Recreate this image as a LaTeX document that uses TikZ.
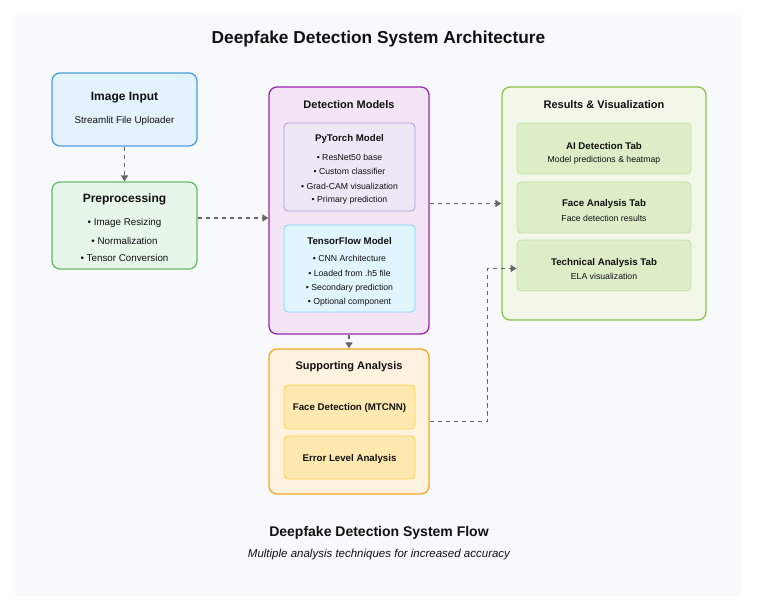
\documentclass[tikz,border=0pt]{standalone}
\usepackage{fontspec}
\setmainfont{Liberation Sans}
\usetikzlibrary{arrows.meta}
\definecolor{bgc}{HTML}{F8F9FA}
\definecolor{blueB}{HTML}{4A9FDB}\definecolor{blueF}{HTML}{E3F2FD}
\definecolor{greenB}{HTML}{66BB6A}\definecolor{greenF}{HTML}{E8F5E9}
\definecolor{purB}{HTML}{9C27B0}\definecolor{purF}{HTML}{F3E5F5}
\definecolor{ptB}{HTML}{B39DDB}\definecolor{ptF}{HTML}{EDE7F6}
\definecolor{tfB}{HTML}{81D4FA}\definecolor{tfF}{HTML}{E1F5FE}
\definecolor{resB}{HTML}{8BC34A}\definecolor{resF}{HTML}{F1F8E9}
\definecolor{tabB}{HTML}{C5E1A5}\definecolor{tabF}{HTML}{DCEDC8}
\definecolor{supB}{HTML}{F5A623}\definecolor{supF}{HTML}{FFF3E0}
\definecolor{sinB}{HTML}{FFD54F}\definecolor{sinF}{HTML}{FFE9B0}
\definecolor{arrc}{HTML}{666666}
\definecolor{txt}{HTML}{111111}
\tikzset{
  box/.style={draw, rounded corners=8pt, line width=1.3pt, inner sep=0pt},
  inbox/.style={draw, rounded corners=4pt, line width=0.8pt, inner sep=0pt},
  ttl/.style={font=\bfseries\fontsize{12}{14}\selectfont, text=txt, inner sep=0pt},
  mttl/.style={font=\bfseries\fontsize{11}{13}\selectfont, text=txt, inner sep=0pt},
  sttl/.style={font=\bfseries\fontsize{9.7}{12}\selectfont, text=txt, inner sep=0pt},
  sub/.style={font=\fontsize{9.8}{12}\selectfont, text=txt, inner sep=0pt},
  small/.style={font=\fontsize{8.7}{10}\selectfont, text=txt, inner sep=0pt},
  arrow/.style={draw=arrc, line width=1.5pt, dash pattern=on 4.5pt off 3.5pt, -{Triangle[width=7pt,length=6pt,fill=arrc]}},
}
\begin{document}
\begin{tikzpicture}[x=1pt,y=-1pt]
\useasboundingbox (0,0) rectangle (757,601);
\fill[bgc] (15,15) rectangle (742,596);
\node[font=\bfseries\fontsize{17.3}{20}\selectfont, text=txt, inner sep=0pt] (title) at (378.5,39) {Deepfake Detection System Architecture};

% Image Input
\node[box, draw=blueB, fill=blueF, minimum width=145pt, minimum height=73pt] (img) at (124.5,109.5) {};
\node[ttl] (imgt) at (124.5,98) {Image Input};
\node[sub] (imgs) at (124.5,121) {Streamlit File Uploader};

% Preprocessing
\node[box, draw=greenB, fill=greenF, minimum width=145pt, minimum height=87pt] (prep) at (124.5,225.5) {};
\node[ttl] (prept) at (124.5,199.5) {Preprocessing};
\node[sub] (prep1) at (124.5,223) {• Image Resizing};
\node[sub] (prep2) at (124.5,240.5) {• Normalization};
\node[sub] (prep3) at (124.5,258) {• Tensor Conversion};

% Detection Models
\node[box, draw=purB, fill=purF, minimum width=160pt, minimum height=247pt] (det) at (349,210.5) {};
\node[mttl] (dett) at (349,104.5) {Detection Models};
\node[inbox, draw=ptB, fill=ptF, minimum width=131pt, minimum height=88pt] (pt) at (349.5,167) {};
\node[sttl] (ptt) at (349.5,139) {PyTorch Model};
\node[small] (pt1) at (349.5,157) {• ResNet50 base};
\node[small] (pt2) at (349.5,171.5) {• Custom classifier};
\node[small] (pt3) at (349.5,186) {• Grad-CAM visualization};
\node[small] (pt4) at (349.5,200.5) {• Primary prediction};
\node[inbox, draw=tfB, fill=tfF, minimum width=131pt, minimum height=87pt] (tf) at (349.5,268.5) {};
\node[sttl] (tft) at (349.5,241) {TensorFlow Model};
\node[small] (tf1) at (349.5,258.5) {• CNN Architecture};
\node[small] (tf2) at (349.5,273) {• Loaded from .h5 file};
\node[small] (tf3) at (349.5,288) {• Secondary prediction};
\node[small] (tf4) at (349.5,302.5) {• Optional component};

% Results
\node[box, draw=resB, fill=resF, minimum width=204pt, minimum height=233pt] (res) at (604,203.5) {};
\node[mttl] (rest) at (604,104.5) {Results \& Visualization};
\node[inbox, draw=tabB, fill=tabF, minimum width=174pt, minimum height=51pt] (ai) at (604,148.5) {};
\node[sttl] (ait) at (604,146) {AI Detection Tab};
\node[small] (ais) at (604,160.5) {Model predictions \& heatmap};
\node[inbox, draw=tabB, fill=tabF, minimum width=174pt, minimum height=51pt] (fa) at (604,207.5) {};
\node[sttl] (fat) at (604,204) {Face Analysis Tab};
\node[small] (fas) at (604,218.5) {Face detection results};
\node[inbox, draw=tabB, fill=tabF, minimum width=174pt, minimum height=51pt] (ta) at (604,265.5) {};
\node[sttl] (tat) at (604,262.5) {Technical Analysis Tab};
\node[small] (tas) at (604,276.5) {ELA visualization};

% Supporting
\node[box, draw=supB, fill=supF, minimum width=160pt, minimum height=145pt] (sup) at (349,421.5) {};
\node[mttl] (supt) at (349,367) {Supporting Analysis};
\node[inbox, draw=sinB, fill=sinF, minimum width=131pt, minimum height=44pt] (fd) at (349.5,407) {};
\node[sttl] (fdt) at (349.5,407.5) {Face Detection (MTCNN)};
\node[inbox, draw=sinB, fill=sinF, minimum width=131pt, minimum height=43pt] (ela) at (349.5,457.5) {};
\node[sttl] (elat) at (349.5,458.5) {Error Level Analysis};

% Footer
\node[font=\bfseries\fontsize{14}{16}\selectfont, text=txt, inner sep=0pt] (flow) at (379,533) {Deepfake Detection System Flow};
\node[font=\itshape\fontsize{11.5}{13}\selectfont, text=txt, inner sep=0pt] (flows) at (379,555) {Multiple analysis techniques for increased accuracy};

% Arrows
\draw[arrow] (img.south) -- (prep.north);
\draw[arrow] ([yshift=7.5pt]prep.east) -- ([yshift=7.5pt]prep.east -| det.west);
\draw[arrow] (det.east |- res.west) -- (res.west);
\draw[arrow] (det.south) -- (sup.north);
\draw[arrow] (sup.east) -- ++(58,0) |- ([yshift=-3pt]ta.west);
\end{tikzpicture}
\end{document}
